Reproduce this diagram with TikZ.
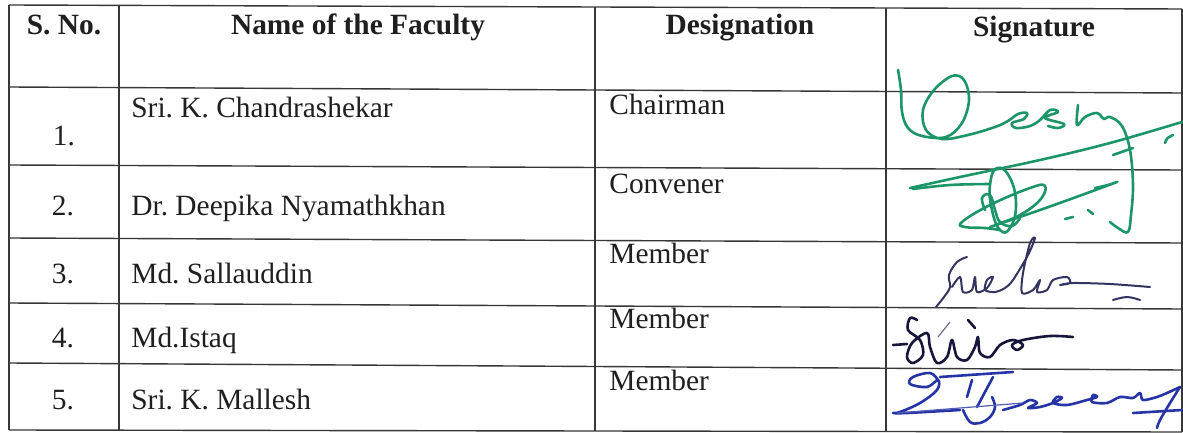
\documentclass[tikz,border=0pt]{standalone}
\usepackage{fontspec}
\setmainfont{Liberation Serif}
\frenchspacing
\definecolor{rule}{RGB}{55,55,55}
\definecolor{sgreen}{RGB}{28,150,104}
\definecolor{sslate}{RGB}{52,52,96}
\definecolor{snavy}{RGB}{22,22,58}
\definecolor{sblue}{RGB}{38,52,165}
\begin{document}
\begin{tikzpicture}[x=0.5pt,y=-0.5pt,
  rulel/.style={draw=rule,line width=0.7pt},
  txt/.style={font=\fontsize{14.7}{17}\selectfont,inner sep=0pt,text=black!88},
  hdr/.style={txt,font=\fontsize{14.7}{17}\selectfont\bfseries,anchor=base},
  lft/.style={txt,anchor=base west},
  ctr/.style={txt,anchor=base},
  sig/.style={line width=1.3pt,line cap=round,line join=round},
  sigthin/.style={line width=1.0pt,line cap=round,line join=round}]
\useasboundingbox (0,0) rectangle (1183,433);
\fill[white] (0,0) rectangle (1183,433);
% grid
\draw[rulel] (9,5) -- (1182,9);
\draw[rulel] (9,87) -- (1182,93);
\draw[rulel] (9,165) -- (1182,170);
\draw[rulel] (9,238) -- (1182,243);
\draw[rulel] (9,303) -- (1182,309);
\draw[rulel] (9,363) -- (1182,370);
\draw[rulel] (9,430) -- (1182,432);
\draw[rulel] (9,5) -- (9,430);
\draw[rulel] (119,5) -- (119,430);
\draw[rulel] (595,7) -- (595,431);
\draw[rulel] (886,8) -- (886,432);
\draw[rulel] (1182,9) -- (1182,432);
% header
\node[hdr] (h1) at (64,35) {S. No.};
\node[hdr] (h2) at (358,35) {Name of the Faculty};
\node[hdr] (h3) at (740,35) {Designation};
\node[hdr] (h4) at (1034,37) {Signature};
% rows
\node[ctr] (n1) at (64,146) {1.};
\node[lft] (f1) at (131,118) {Sri. K. Chandrashekar};
\node[lft] (d1) at (609,115) {Chairman};
\node[ctr] (n2) at (63,215) {2.};
\node[lft] (f2) at (131,215) {Dr. Deepika Nyamathkhan};
\node[lft] (d2) at (609,193) {Convener};
\node[ctr] (n3) at (63,283) {3.};
\node[lft] (f3) at (131,283) {Md. Sallauddin};
\node[lft] (d3) at (609,263) {Member};
\node[ctr] (n4) at (63,347) {4.};
\node[lft] (f4) at (131,347) {Md.Istaq};
\node[lft] (d4) at (609,328) {Member};
\node[ctr] (n5) at (63,409) {5.};
\node[lft] (f5) at (131,409) {Sri. K. Mallesh};
\node[lft] (d5) at (609,390) {Member};
% signature 1 (green)
\draw[sig,sgreen] plot[smooth,tension=0.6] coordinates {(898,70) (901,90) (902,112) (908,128) (922,136) (946,137) (962,123) (969,100) (964,80) (952,76) (934,90) (923,110) (926,130) (942,139) (968,135) (995,127) (1008,121) (1018,114) (1027,113) (1024,119) (1012,123) (1016,128) (1030,126) (1040,120) (1050,110) (1058,112) (1045,118) (1064,124) (1058,128) (1048,126)};
\draw[sig,sgreen] plot[smooth,tension=0.6] coordinates {(1078,105) (1077,125) (1085,117) (1097,113) (1104,119) (1110,117) (1122,126) (1130,150) (1133,185) (1131,215) (1128,232) (1118,228) (1110,222)};
\draw[sig,sgreen] plot[smooth,tension=0.6] coordinates {(910,188) (960,177) (1040,160) (1110,143) (1182,122)};
\draw[sig,sgreen] (1113,155) -- (1133,148);
\draw[sig,sgreen] (1165,143) .. controls (1167,138) .. (1173,135);
% signature 2 (green)
\draw[sig,sgreen] plot[smooth,tension=0.6] coordinates {(913,189) (950,185) (990,184)};
\draw[sig,sgreen] plot[smooth cycle,tension=0.8] coordinates {(997,168) (1010,178) (1016,205) (1010,228) (1000,230) (992,210) (990,185)};
\draw[sig,sgreen] plot[smooth,tension=0.7] coordinates {(1000,230) (985,228) (965,227) (962,222) (990,205) (1030,188) (1045,186) (1040,200) (1020,215) (998,224)};
\draw[sig,sgreen] plot[smooth,tension=0.7] coordinates {(985,210) (982,198) (990,195) (995,210) (1000,222) (1012,226) (1020,218)};
\draw[sig,sgreen] plot[smooth,tension=0.6] coordinates {(990,227) (1040,210) (1090,192) (1117,182) (1108,185) (1095,188)};
\draw[sig,sgreen] (1065,219) -- (1073,217);
\draw[sig,sgreen] (1088,210) -- (1093,214);
% signature 3 (slate)
\draw[sigthin,sslate] plot[smooth,tension=0.6] coordinates {(967,257) (957,262) (949,275) (950,287) (944,297) (936,307)};
\draw[sigthin,sslate] plot[smooth,tension=0.5] coordinates {(952,287) (960,277) (963,292) (972,290) (975,277) (977,292) (987,288) (993,277) (987,280) (985,290) (995,292) (1005,288) (1013,280) (1028,255) (1035,238) (1030,243) (1023,273) (1022,293) (1033,290) (1040,280) (1037,292) (1047,290) (1053,280) (1067,277) (1070,283) (1060,285) (1073,283) (1110,284) (1150,287)};
\draw[sigthin,sslate] plot[smooth,tension=0.6] coordinates {(1113,300) (1127,297) (1140,300)};
% signature 4 (navy)
\draw[sig,snavy] (893,345) -- (907,344);
\draw[sig,snavy] plot[smooth,tension=0.55] coordinates {(917,320) (910,318) (908,330) (920,340) (923,355) (913,363) (907,357) (912,343) (927,333) (930,347) (937,363) (947,357) (952,340) (957,357) (967,360) (975,347) (978,337) (980,353) (990,357) (1000,345) (1013,340) (1023,345) (1017,350) (1012,345) (1023,340) (1050,336) (1073,337)};
\draw[sig,snavy] (968,320) -- (975,328);
\draw[line width=0.6pt,sslate!70] (950,322) -- (938,337);
% signature 5 (blue)
\draw[sig,sblue] plot[smooth,tension=0.6] coordinates {(938,380) (930,373) (913,377) (910,384) (927,387) (938,380) (937,390) (920,403) (900,412) (893,413) (907,413) (960,410)};
\draw[sig,sblue] (940,377) -- (1013,372);
\draw[sig,sblue] (972,380) -- (967,397);
\draw[sig,sblue] (993,377) -- (977,407);
\draw[sig,sblue] plot[smooth,tension=0.6] coordinates {(963,410) (970,422) (980,423) (990,417) (995,407) (992,397)};
\draw[sig,sblue] plot[smooth,tension=0.5] coordinates {(1003,410) (1020,405) (1030,400) (1037,403) (1028,408) (1040,407) (1053,403) (1062,398) (1057,397) (1053,403) (1067,405) (1087,400) (1097,397) (1093,395) (1092,402) (1107,403) (1120,397) (1133,398) (1140,393) (1143,400) (1157,397) (1167,393) (1180,387)};
\draw[sig,sblue] plot[smooth,tension=0.6] coordinates {(1180,387) (1170,403) (1160,420) (1157,428)};
\draw[sig,sblue] (1133,413) -- (1182,410);
\draw[line width=0.6pt,sblue!80] (897,413) -- (1023,403);
\end{tikzpicture}
\end{document}
